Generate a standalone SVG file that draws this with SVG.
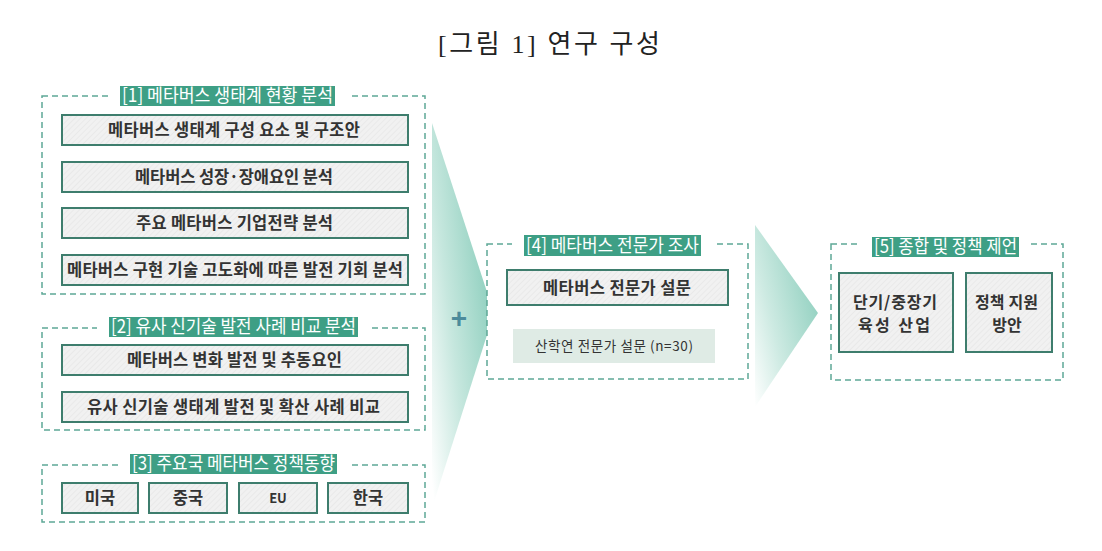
<svg xmlns="http://www.w3.org/2000/svg" width="1102" height="551" viewBox="0 0 1102 551">
<defs>
<pattern id="hatch" width="4" height="4" patternUnits="userSpaceOnUse" patternTransform="rotate(45)">
<rect width="4" height="4" fill="#f1f1f1"/>
<line x1="0" y1="0" x2="0" y2="4" stroke="#e2e2e2" stroke-width="1"/>
</pattern>
<linearGradient id="arrowGrad" x1="0.95" y1="0.25" x2="0.05" y2="1">
<stop offset="0" stop-color="#8ecfbe"/>
<stop offset="0.55" stop-color="#c6e7de"/>
<stop offset="1" stop-color="#ffffff"/>
</linearGradient>
<linearGradient id="arrowGrad2" x1="1" y1="0.3" x2="0" y2="1">
<stop offset="0" stop-color="#8ecfbe"/>
<stop offset="0.6" stop-color="#cdeae2"/>
<stop offset="1" stop-color="#ffffff"/>
</linearGradient>
</defs>
<style>
.title{font-family:"Liberation Serif","Noto Sans CJK KR",serif;font-size:26px;fill:#222;}
.group{fill:none;stroke:#5ea896;stroke-width:1.5;stroke-dasharray:6 4;}
.lbg{fill:#3e9f85;}
.ltxt{font-family:"Noto Sans CJK KR",sans-serif;font-size:18.5px;fill:#ffffff;text-anchor:middle;}
.box{fill:url(#hatch);stroke:#3e7d6d;stroke-width:2;}
.btxt{font-family:"Noto Sans CJK KR",sans-serif;font-size:16.5px;font-weight:bold;fill:#333;text-anchor:middle;}
.big{font-size:16px;}
.soft{fill:#dfebe5;}
.stxt{font-family:"Noto Sans CJK KR",sans-serif;font-size:13.5px;fill:#333;text-anchor:middle;}
.plus{font-family:"Liberation Sans",sans-serif;font-size:28px;font-weight:bold;fill:#4c8b9b;text-anchor:middle;}
</style>

<text class="title" x="549" y="53" text-anchor="middle" textLength="222" lengthAdjust="spacing">[그림 1] 연구 구성</text>

<g id="connectors">
<path d="M432,123 L487,292 L487,335 L432,508 Z" fill="url(#arrowGrad)"/>
<path d="M755,225 L818,313 L755,407 Z" fill="url(#arrowGrad2)"/>
<text class="plus" x="459" y="328">+</text>
</g>

<g id="group1">
<rect class="group" x="42" y="96" width="383" height="198"/>
<rect fill="#fff" x="108" y="88" width="240" height="16"/>
<rect class="lbg" x="120" y="86" width="215" height="20"/>
<text class="ltxt" x="227.5" y="102" textLength="211" lengthAdjust="spacingAndGlyphs">[1] 메타버스  생태계 현황 분석</text>
</g>
<g id="n1a"><rect class="box" x="62" y="115" width="346" height="30"/><text class="btxt" x="234" y="136" textLength="252" lengthAdjust="spacing">메타버스 생태계 구성 요소 및 구조안</text></g>
<g id="n1b"><rect class="box" x="62" y="162" width="346" height="30"/><text class="btxt" x="234" y="183" textLength="198" lengthAdjust="spacing">메타버스 성장·장애요인 분석</text></g>
<g id="n1c"><rect class="box" x="62" y="208" width="346" height="30"/><text class="btxt" x="234.5" y="229" textLength="197" lengthAdjust="spacing">주요 메타버스 기업전략 분석</text></g>
<g id="n1d"><rect class="box" x="62" y="255" width="346" height="30"/><text class="btxt" x="235" y="276" textLength="336" lengthAdjust="spacing">메타버스 구현 기술 고도화에 따른 발전 기회 분석</text></g>

<g id="group2">
<rect class="group" x="42" y="328" width="383" height="102"/>
<rect fill="#fff" x="97" y="320" width="273" height="16"/>
<rect class="lbg" x="109" y="317" width="249" height="20"/>
<text class="ltxt" x="233.5" y="333" textLength="245" lengthAdjust="spacingAndGlyphs">[2] 유사 신기술 발전 사례 비교 분석</text>
</g>
<g id="n2a"><rect class="box" x="62" y="345" width="346" height="30"/><text class="btxt" x="234.5" y="366" textLength="215" lengthAdjust="spacing">메타버스 변화 발전 및 추동요인</text></g>
<g id="n2b"><rect class="box" x="62" y="392" width="346" height="30"/><text class="btxt" x="233.5" y="413" textLength="293" lengthAdjust="spacing">유사 신기술 생태계 발전 및 확산 사례 비교</text></g>

<g id="group3">
<rect class="group" x="42" y="465" width="383" height="57"/>
<rect fill="#fff" x="118" y="456" width="231" height="16"/>
<rect class="lbg" x="130" y="454" width="207" height="20"/>
<text class="ltxt" x="233.5" y="470" textLength="203" lengthAdjust="spacingAndGlyphs">[3] 주요국 메타버스 정책동향</text>
</g>
<g id="n3a"><rect class="box" x="62" y="483" width="76" height="30"/><text class="btxt" x="100" y="504">미국</text></g>
<g id="n3b"><rect class="box" x="149" y="483" width="78" height="30"/><text class="btxt" x="188" y="504">중국</text></g>
<g id="n3c"><rect class="box" x="239" y="483" width="78" height="30"/><text class="btxt" x="278" y="503" style="font-size:13px">EU</text></g>
<g id="n3d"><rect class="box" x="328" y="483" width="80" height="30"/><text class="btxt" x="368" y="504">한국</text></g>

<g id="group4">
<rect class="group" x="487" y="244" width="261" height="135"/>
<rect fill="#fff" x="512" y="236" width="201" height="16"/>
<rect class="lbg" x="524" y="235" width="177" height="21"/>
<text class="ltxt" x="612.5" y="252" textLength="173" lengthAdjust="spacingAndGlyphs">[4] 메타버스 전문가 조사</text>
</g>
<g id="n4a"><rect class="box" x="507" y="270" width="221" height="35"/><text class="btxt" x="617" y="294" textLength="148" lengthAdjust="spacing">메타버스 전문가 설문</text></g>
<g id="n4b"><rect class="soft" x="513" y="329" width="202" height="34"/><text class="stxt" x="614" y="351" textLength="158" lengthAdjust="spacing">산학연 전문가 설문 (n=30)</text></g>

<g id="group5">
<rect class="group" x="831" y="244" width="232" height="136"/>
<rect fill="#fff" x="860" y="236" width="171" height="16"/>
<rect class="lbg" x="872" y="237" width="147" height="20"/>
<text class="ltxt" x="945.5" y="253" textLength="143" lengthAdjust="spacingAndGlyphs">[5] 종합 및 정책 제언</text>
</g>
<g id="n5a"><rect class="box" x="839" y="273" width="114" height="79"/><text class="btxt big" x="895" y="308" textLength="84" lengthAdjust="spacing">단기/중장기</text><text class="btxt big" x="894" y="331" textLength="72" lengthAdjust="spacing">육성 산업</text></g>
<g id="n5b"><rect class="box" x="966" y="273" width="86" height="79"/><text class="btxt big" x="1006.5" y="308" textLength="63" lengthAdjust="spacing">정책 지원</text><text class="btxt big" x="1007" y="331">방안</text></g>
</svg>
